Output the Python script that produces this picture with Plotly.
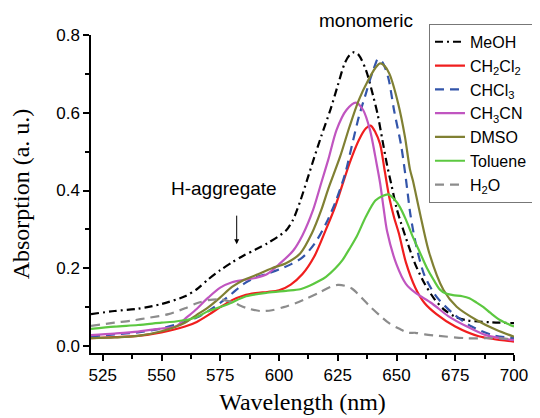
import plotly.graph_objects as go

# ---- data ----
meoh_x = [520,530,540,550,560,565,570,575,580,585,590,595,600,603,606,609,612,615,618,622,625,628,630,632,634,637,640,642,644,646,648,650,652,655,658,662,666,670,675,680,690,700]
meoh_y = [0.082,0.09,0.096,0.108,0.128,0.146,0.172,0.195,0.215,0.233,0.248,0.264,0.283,0.297,0.325,0.372,0.428,0.485,0.54,0.61,0.67,0.728,0.748,0.756,0.748,0.71,0.645,0.595,0.53,0.465,0.41,0.355,0.315,0.26,0.21,0.16,0.122,0.095,0.075,0.066,0.061,0.059]

ch2cl2_x = [520,530,540,550,560,565,570,575,580,585,590,595,600,605,610,615,620,624,627,630,634,637,639,641,643,645,647,649,651,654,658,662,667,675,685,700]
ch2cl2_y = [0.02,0.023,0.026,0.035,0.05,0.062,0.08,0.1,0.118,0.13,0.136,0.139,0.143,0.158,0.185,0.23,0.3,0.36,0.415,0.47,0.53,0.56,0.567,0.55,0.52,0.45,0.38,0.33,0.29,0.215,0.15,0.11,0.082,0.05,0.025,0.011]

chcl3_x = [520,530,540,550,560,565,570,575,580,585,590,595,600,605,610,615,620,624,628,631,634,637,639,641,642,644,646.5,649,652,654,656,658.5,662,667,674,682,691,700]
chcl3_y = [0.025,0.03,0.035,0.045,0.062,0.073,0.09,0.111,0.135,0.16,0.176,0.186,0.197,0.21,0.228,0.262,0.315,0.37,0.44,0.515,0.59,0.65,0.69,0.725,0.738,0.73,0.69,0.605,0.515,0.43,0.335,0.255,0.18,0.127,0.084,0.05,0.028,0.02]

ch3cn_x = [520,530,540,550,556,560,564,570,575,580,585,590,595,600,606,610,614.5,618,621,624.5,628.7,632.7,635.8,638.7,641.5,643,644.5,646,650,654,658,665,672,680,688,700]
ch3cn_y = [0.028,0.032,0.037,0.045,0.05,0.07,0.09,0.125,0.15,0.164,0.17,0.175,0.185,0.21,0.245,0.285,0.35,0.42,0.48,0.556,0.607,0.626,0.607,0.556,0.47,0.42,0.355,0.295,0.21,0.16,0.137,0.11,0.077,0.05,0.028,0.015]

dmso_x = [520,530,540,550,560,565,570,575,580,585,590,597,603,609,614,618,621,626,630,634,638,641,643,645,647,650.7,653.6,655.7,657,660,664,670,675.6,684,692.6,700]
dmso_y = [0.02,0.022,0.026,0.038,0.06,0.08,0.1,0.125,0.152,0.17,0.182,0.2,0.213,0.238,0.29,0.35,0.405,0.487,0.564,0.633,0.684,0.715,0.727,0.72,0.7,0.624,0.538,0.455,0.425,0.341,0.238,0.144,0.101,0.067,0.041,0.024]

toluene_x = [520,530,540,550,556,564,570,578,586,595,603,609,613,617,620,624,627,630,633,637,641,644,646.5,649,651.4,654,657,660,663,666,668.5,671,674,678,681,684,687,690,694,700]
toluene_y = [0.044,0.05,0.054,0.06,0.063,0.072,0.09,0.107,0.128,0.137,0.142,0.146,0.155,0.167,0.178,0.2,0.221,0.25,0.281,0.333,0.374,0.386,0.39,0.378,0.358,0.325,0.28,0.24,0.2,0.168,0.145,0.135,0.131,0.128,0.123,0.112,0.1,0.085,0.067,0.05]

h2o_x = [520,530,537,545,553,560,565,570,575,580,586,592,597,602,607,612,617,622,625,628,631,635,639,643,647,651,655,658,662,668,680,690,700]
h2o_y = [0.052,0.06,0.065,0.073,0.082,0.097,0.11,0.118,0.12,0.113,0.098,0.09,0.092,0.1,0.11,0.123,0.137,0.152,0.157,0.155,0.148,0.125,0.1,0.078,0.058,0.045,0.034,0.034,0.03,0.026,0.02,0.02,0.018]

x_ticks = [525, 550, 575, 600, 625, 650, 675, 700]
y_ticks = [0.0, 0.2, 0.4, 0.6, 0.8]

series = [
    ("MeOH", meoh_x, meoh_y, "#000000", "8px,4px,2px,4px"),
    ("CH<sub>2</sub>Cl<sub>2</sub>", ch2cl2_x, ch2cl2_y, "#F01E1E", "solid"),
    ("CHCl<sub>3</sub>", chcl3_x, chcl3_y, "#3355AA", "9px,6px"),
    ("CH<sub>3</sub>CN", ch3cn_x, ch3cn_y, "#C055C0", "solid"),
    ("DMSO", dmso_x, dmso_y, "#808033", "solid"),
    ("Toluene", toluene_x, toluene_y, "#5CC840", "solid"),
    ("H<sub>2</sub>O", h2o_x, h2o_y, "#8C8C8C", "9px,6px"),
]

fig = go.Figure()
for name, xs, ys, col, dash in series:
    fig.add_trace(go.Scatter(x=xs, y=ys, mode="lines", name=name,
                             line=dict(color=col, width=2.2, dash=dash, shape="spline", smoothing=0.8)))

tickfont = dict(family="Liberation Sans, Arial, sans-serif", size=17, color="#000")
titlefont = dict(family="Liberation Serif, Times New Roman, serif", size=24, color="#000")
annfont = dict(family="Liberation Sans, Arial, sans-serif", size=19, color="#000")

# the page adds an 8px body margin, so the figure is 532x410 and offsets are compensated
fig.update_layout(
    width=532, height=410,
    margin=dict(l=83, r=26, t=27, b=65, autoexpand=False),
    paper_bgcolor="white", plot_bgcolor="white",
    showlegend=True,
    legend=dict(x=0.799, y=1.035, xanchor="left", yanchor="top",
                bgcolor="white", bordercolor="#777", borderwidth=1,
                font=dict(family="Liberation Sans, Arial, sans-serif", size=16, color="#000"),
                itemwidth=30, tracegroupgap=0),
    xaxis=dict(range=[520, 700], tickmode="array", tickvals=x_ticks,
               ticktext=[str(v) for v in x_ticks],
               showgrid=False, zeroline=False, showline=True, linecolor="#000", linewidth=1.5,
               ticks="outside", ticklen=6, tickwidth=1.5, tickcolor="#000",
               minor=dict(ticks="outside", ticklen=4, tickwidth=1.5, tickcolor="#000", tick0=525, dtick=12.5),
               tickfont=tickfont,
               title=dict(text="Wavelength (nm)", font=titlefont, standoff=9)),
    yaxis=dict(range=[-0.018, 0.8], tickmode="array", tickvals=y_ticks,
               ticktext=["%.1f" % v for v in y_ticks],
               showgrid=False, zeroline=False, showline=True, linecolor="#000", linewidth=1.5,
               ticks="outside", ticklen=6, tickwidth=1.5, tickcolor="#000",
               minor=dict(ticks="outside", ticklen=4, tickwidth=1.5, tickcolor="#000", tick0=0, dtick=0.1),
               tickfont=tickfont,
               title=dict(text="Absorption (a. u.)", font=titlefont, standoff=22)),
)

fig.add_annotation(x=637, y=1.047, xref="x", yref="paper", text="monomeric", showarrow=False,
                   xanchor="center", yanchor="middle", font=annfont)
fig.add_annotation(x=576.5, y=0.404, xref="x", yref="y", text="H-aggregate", showarrow=False,
                   xanchor="center", yanchor="middle", font=annfont)
fig.add_annotation(x=582, y=0.262, xref="x", yref="y", text="", showarrow=True,
                   ax=0, ay=-30, arrowhead=2, arrowsize=1, arrowwidth=1, arrowcolor="#000")

fig.write_html("out.html")
